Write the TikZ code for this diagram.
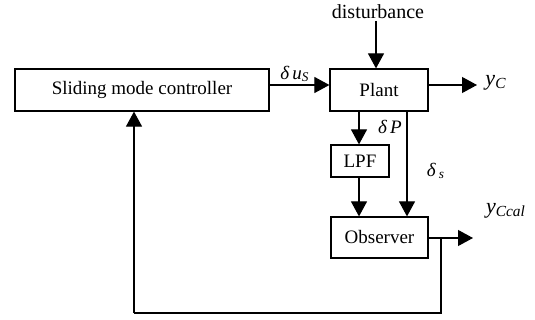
\documentclass[tikz,border=0pt]{standalone}
\usepackage{fontspec}
\setmainfont{Liberation Serif}
\usetikzlibrary{arrows.meta}
\tikzset{
  blk/.style={draw, line width=0.6pt, inner sep=0pt, font=\fontsize{9.5}{11}\selectfont},
  arr/.style={line width=0.55pt, -{Triangle[length=7.5pt,width=8pt]}},
  ln/.style={line width=0.55pt},
  lbl/.style={inner sep=0pt, font=\fontsize{9.5}{11}\selectfont\itshape}
}
\begin{document}
\begin{tikzpicture}[x=0.5pt,y=-0.5pt]
\useasboundingbox (0,0) rectangle (535,320);
\node[blk, minimum width=127pt, minimum height=21pt] (smc) at (142,90) {Sliding mode controller};
\node[blk, minimum width=49pt, minimum height=21pt] (plant) at (379,90) {Plant};
\node[blk, minimum width=29pt, minimum height=16pt] (lpf) at (360,161) {LPF};
\node[blk, minimum width=48.5pt, minimum height=20.5pt] (obs) at (379.5,237.5) {Observer};
\node[inner sep=0pt, font=\fontsize{10}{12}\selectfont] (dist) at (378,12) {disturbance};
% coordinates
\coordinate (dtop) at (376,21);
\coordinate (yc) at (477,85);
\coordinate (ycal) at (473,238);
\coordinate (fb1) at (441,238);
\coordinate (fb2) at (441,313);
\coordinate (fb3) at (134,313);
% arrows
\draw[arr] (dtop) -- (dtop |- plant.north);
\draw[arr] (smc.east |- yc) -- (plant.west |- yc);
\draw[arr] (plant.east |- yc) -- (yc);
\draw[arr] (plant.south -| lpf.north) ++(-1,0) -- ([xshift=-0.5pt]lpf.north);
\draw[arr] (plant.south -| 407,0) -- (obs.north -| 407,0);
\draw[arr] ([xshift=-0.5pt]lpf.south) -- (obs.north -| 359,0);
\draw[arr] (obs.east |- ycal) -- (ycal);
\draw[ln] (fb1) -- (fb2) -- (fb3);
\draw[arr] (fb3) -- (smc.south -| fb3);
% labels
\node[lbl] (lu) at (295,74) {δ\,u\textsubscript{S}};
\node[lbl] (lp) at (390,127) {δ\,P};
\node[lbl] (ls) at (436,171) {δ\,\textsubscript{s}};
\node[lbl, font=\fontsize{11}{13}\selectfont\itshape] (lyc) at (496,83) {y\textsubscript{C}};
\node[lbl, font=\fontsize{11}{13}\selectfont\itshape] (lycal) at (506,211) {y\textsubscript{Ccal}};
\end{tikzpicture}
\end{document}
